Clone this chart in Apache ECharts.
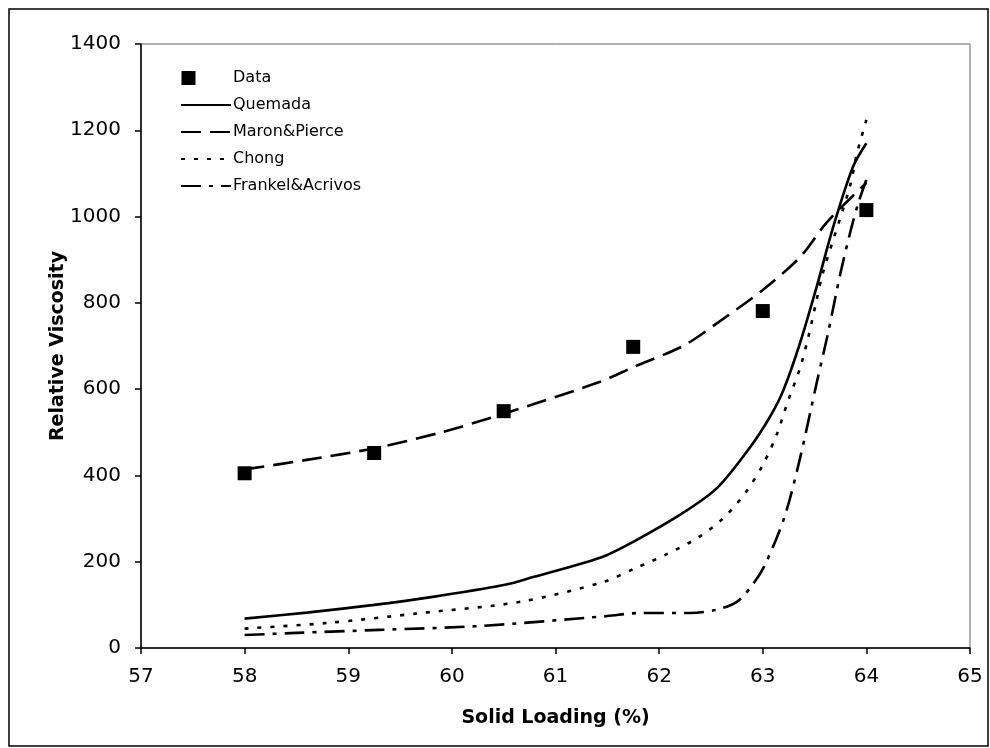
<!DOCTYPE html>
<html>
<head>
<meta charset="utf-8">
<script src="https://cdn.jsdelivr.net/npm/echarts@6/dist/echarts.min.js"></script>
<style>
  html, body { margin: 0; padding: 0; background: #fff; }
  #chart { width: 990px; height: 748px; }
</style>
</head>
<body>
<div id="chart"></div>
<script>
// Measured relative viscosity at each solid loading (%)
const dataPoints = [[58, 405], [59.25, 452], [60.5, 549], [61.75, 698], [63, 781], [64, 1015]];

// Model curves: [solid loading %, relative viscosity]
const quemada = [[58, 68], [58.6, 82], [59.25, 100], [59.8, 118], [60.5, 146], [60.75, 162], [61.43, 209],
  [61.75, 246], [62.23, 313], [62.56, 371], [62.88, 466], [63.07, 536], [63.2, 598], [63.36, 707],
  [63.52, 837], [63.68, 976], [63.87, 1115], [64, 1170]];

const maronPierce = [[58, 414], [58.6, 436], [59.25, 463], [59.9, 500], [60.5, 543], [61.43, 617],
  [61.75, 651], [62.23, 700], [62.56, 753], [63, 830], [63.36, 906], [63.62, 987], [64, 1078]];

const chong = [[58, 45], [58.8, 58], [59.7, 81], [60.66, 107], [61.46, 153], [61.77, 185], [62.06, 216],
  [62.37, 255], [62.62, 301], [62.83, 359], [63, 424], [63.14, 498], [63.24, 570], [63.36, 649],
  [63.44, 721], [63.52, 807], [63.58, 869], [63.84, 1069], [63.91, 1147], [64, 1224]];

const frankelAcrivos = [[58, 30], [58.5, 35], [59.3, 42], [60.27, 51], [61.5, 74], [61.8, 81], [62.3, 81],
  [62.54, 88], [62.75, 107], [62.9, 146], [63.02, 192], [63.21, 304], [63.36, 440], [63.52, 614],
  [63.63, 730], [63.75, 869], [63.85, 969], [63.92, 1030], [64, 1085]];

const xTicks = { min: 57, max: 65, interval: 1 };
const yTicks = { min: 0, max: 1400, interval: 200 };

const FONT = 'DejaVu Sans, Verdana, sans-serif';

function curve(name, data, type) {
  return {
    name: name,
    type: 'line',
    data: data,
    smooth: 0.3,
    showSymbol: false,
    symbol: 'none',
    itemStyle: { color: '#000' },
    lineStyle: { color: '#000', width: 2.6, type: type, cap: 'butt' },
    z: 2
  };
}

// legend entries for the curves show only their line pattern
function lineLegend(name) {
  return { name: name, itemStyle: { opacity: 0 } };
}

const chart = echarts.init(document.getElementById('chart'), null, { renderer: 'canvas' });
chart.setOption({
  backgroundColor: '#fff',
  animation: false,
  grid: { left: 141, right: 20, top: 44, bottom: 100, show: true, borderColor: '#666', borderWidth: 1 },
  legend: {
    orient: 'vertical',
    left: 175,
    top: 65,
    itemWidth: 50,
    itemHeight: 14,
    itemGap: 11,
    textStyle: { fontFamily: FONT, fontSize: 16, color: '#000', padding: [0, 0, 0, -3] },
    data: [
      // square marker sits at the left end of the icon box
      { name: 'Data', icon: 'path://M1,0h14v14h-14z M50,7h0.01v0.01h-0.01z', itemStyle: { color: '#000', opacity: 1 } },
      lineLegend('Quemada'),
      lineLegend('Maron&Pierce'),
      lineLegend('Chong'),
      lineLegend('Frankel&Acrivos')
    ]
  },
  xAxis: {
    type: 'value',
    min: xTicks.min, max: xTicks.max, interval: xTicks.interval,
    name: 'Solid Loading (%)',
    nameLocation: 'middle',
    nameGap: 61,
    nameMoveOverlap: false,
    nameTextStyle: { fontFamily: FONT, fontSize: 19, fontWeight: 'bold', color: '#000' },
    axisLine: { lineStyle: { color: '#000', width: 1.5 } },
    axisTick: { show: true, inside: false, length: 6, lineStyle: { color: '#000', width: 1.5 } },
    axisLabel: { fontFamily: FONT, fontSize: 20, color: '#000', margin: 19 },
    splitLine: { show: false }
  },
  yAxis: {
    type: 'value',
    min: yTicks.min, max: yTicks.max, interval: yTicks.interval,
    name: 'Relative Viscosity',
    nameLocation: 'middle',
    nameGap: 73,
    nameMoveOverlap: false,
    nameTextStyle: { fontFamily: FONT, fontSize: 19, fontWeight: 'bold', color: '#000' },
    axisLine: { lineStyle: { color: '#000', width: 1.5 } },
    axisTick: { show: true, inside: false, length: 6, lineStyle: { color: '#000', width: 1.5 } },
    axisLabel: { fontFamily: FONT, fontSize: 20, color: '#000', margin: 20, formatter: (v) => String(v) },
    splitLine: { show: false }
  },
  graphic: [
    {
      type: 'rect',
      shape: { x: 9, y: 9, width: 979, height: 737 },
      style: { fill: 'none', stroke: '#000', lineWidth: 1.5 },
      silent: true
    }
  ],
  series: [
    {
      name: 'Data',
      type: 'scatter',
      data: dataPoints,
      symbol: 'rect',
      symbolSize: 14,
      itemStyle: { color: '#000', opacity: 1 },
      z: 3
    },
    curve('Quemada', quemada, 'solid'),
    curve('Maron&Pierce', maronPierce, [20, 9]),
    curve('Chong', chong, [4, 9]),
    curve('Frankel&Acrivos', frankelAcrivos, [20, 8, 4, 8])
  ]
});
</script>
</body>
</html>
